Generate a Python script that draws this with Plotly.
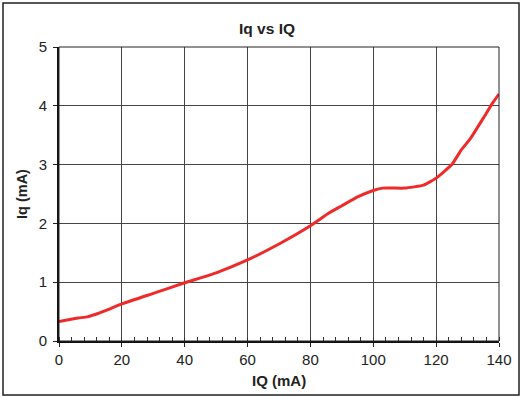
import plotly.graph_objects as go

iq_total_ma = [0, 3, 6, 9, 11.5, 15, 20, 30, 40, 50, 60, 70, 80, 86, 90, 95, 100, 103, 110, 116, 120, 125, 128, 131, 135, 138, 140]
iq_quiescent_ma = [0.33, 0.36, 0.39, 0.41, 0.45, 0.52, 0.63, 0.81, 0.99, 1.16, 1.38, 1.65, 1.96, 2.18, 2.30, 2.45, 2.56, 2.60, 2.60, 2.65, 2.77, 3.00, 3.25, 3.45, 3.79, 4.05, 4.20]

x_ticks = [0, 20, 40, 60, 80, 100, 120, 140]
y_ticks = [0, 1, 2, 3, 4, 5]

FONT = "Liberation Sans, Arial, sans-serif"
W, H = 522, 397
L, R, T, B = 59, 23, 47, 56
pw, ph = W - L - R, H - T - B

def px_x(p):
    return (p - L) / pw

def px_y(p):
    return (H - B - p) / ph

fig = go.Figure()
fig.add_trace(go.Scatter(
    x=iq_total_ma, y=iq_quiescent_ma, mode="lines",
    line=dict(color="#ee2a2a", width=3, shape="spline", smoothing=0.4),
    showlegend=False, hoverinfo="skip",
))

fig.update_layout(
    template="none",
    width=W, height=H,
    margin=dict(l=L, r=R, t=T, b=B, autoexpand=False),
    paper_bgcolor="white", plot_bgcolor="white",
    font=dict(family=FONT, size=14, color="#222"),
    title=dict(text="<b>Iq vs IQ</b>", x=267 / W, xref="container", xanchor="center",
               y=1 - 29 / H, yref="container", yanchor="middle",
               font=dict(size=15.5, color="#222")),
    xaxis=dict(
        automargin=False,
        range=[0, 140], tickvals=x_ticks, ticks="outside", ticklen=4, tickwidth=1,
        tickcolor="#222", showline=True, linecolor="#111", linewidth=2,
        showgrid=True, gridcolor="#444", gridwidth=1, zeroline=False,
        minor=dict(dtick=4, ticks="inside", ticklen=4, tickcolor="#333", showgrid=False),
        tickfont=dict(size=15, color="#222"),
    ),
    yaxis=dict(
        automargin=False,
        range=[0, 5], tickvals=y_ticks, ticks="outside", ticklen=4, tickwidth=1,
        tickcolor="#222", showline=True, linecolor="#111", linewidth=2,
        showgrid=True, gridcolor="#444", gridwidth=1, zeroline=False,
        tickfont=dict(size=15, color="#222"),
        ticklabelstandoff=3,
    ),
    annotations=[
        dict(text="<b>IQ (mA)</b>", xref="paper", yref="paper", x=px_x(279), y=px_y(380),
             xanchor="center", yanchor="middle", showarrow=False, font=dict(size=15, color="#222")),
        dict(text="<b>Iq (mA)</b>", xref="paper", yref="paper", x=px_x(22), y=px_y(194),
             xanchor="center", yanchor="middle", textangle=-90, showarrow=False,
             font=dict(size=14.5, color="#222")),
    ],
)

# plot area frame (top/right thin)
fig.add_shape(type="rect", xref="paper", yref="paper", x0=0, x1=1, y0=0, y1=1,
              line=dict(color="#222", width=1), layer="above")
# outer chart border
fig.add_shape(type="rect", xref="paper", yref="paper",
              x0=px_x(3), x1=px_x(519), y0=px_y(395), y1=px_y(3),
              line=dict(color="#222", width=1.5), layer="above")

fig.write_html("out.html", config={"displayModeBar": False},
               post_script="document.body.style.margin='0';")
